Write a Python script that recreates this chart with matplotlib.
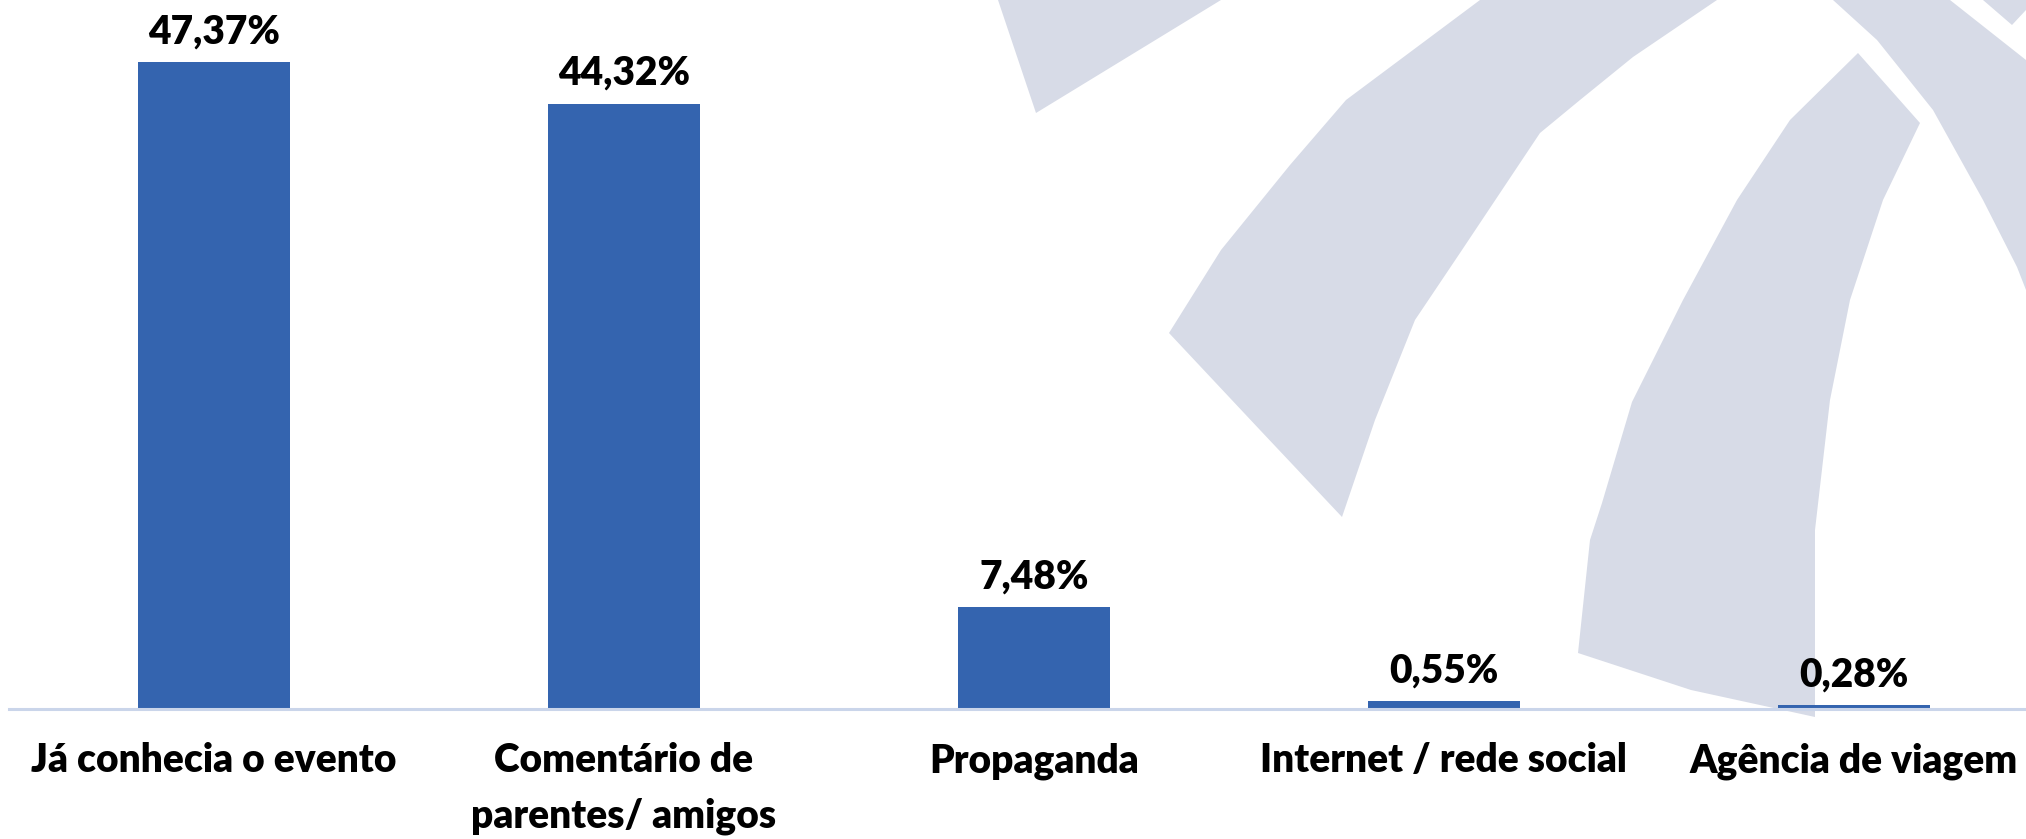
import matplotlib
matplotlib.use("Agg")
import matplotlib.pyplot as plt
from matplotlib.patches import Polygon

categories = ["Já conhecia o evento", "Comentário de\nparentes/ amigos", "Propaganda",
              "Internet / rede social", "Agência de viagem"]
values = [47.37, 44.32, 7.48, 0.55, 0.28]
value_labels = ["47,37%", "44,32%", "7,48%", "0,55%", "0,28%"]

W, H = 2026, 839
fig = plt.figure(figsize=(W / 100, H / 100), dpi=100)
fig.patch.set_facecolor("white")

# decorative watermark in the background (pixel coordinates of the figure)
bg = fig.add_axes([0, 0, 1, 1], zorder=0)
bg.set_xlim(0, W)
bg.set_ylim(H, 0)
bg.axis("off")
wm_color = "#d7dbe7"
shapes = [
    [(998, 0), (1036, 113), (1221, 0)],
    [(1480, 0), (1346, 100), (1290, 165), (1221, 250), (1169, 333),
     (1260, 430), (1342, 517), (1375, 420), (1415, 320), (1462, 250),
     (1540, 133), (1580, 100), (1633, 57), (1717, 0)],
    [(1858, 53), (1920, 123), (1883, 200), (1850, 300), (1830, 400),
     (1815, 530), (1815, 717), (1691, 690), (1578, 653), (1590, 540),
     (1602, 503), (1632, 402), (1683, 300), (1737, 200), (1790, 120)],
    [(1833, 0), (1877, 40), (1933, 110), (1983, 200), (2017, 267),
     (2026, 290), (2026, 60), (1950, 0)],
    [(1983, 0), (2012, 25), (2026, 10), (2026, 0)],
]
for s in shapes:
    bg.add_patch(Polygon(s, closed=True, facecolor=wm_color, edgecolor="none"))

ax = fig.add_axes([9 / W, (H - 709) / H, 1 - 9 / W, 709 / H], zorder=1)
ax.patch.set_alpha(0)
x = list(range(len(categories)))
bars = ax.bar(x, values, width=0.37, color="#3464AF", zorder=2)
ax.set_xlim(-0.5, 4.42)
ax.set_ylim(0, 709 / 13.66)

font = "Lato"
weight = "heavy"
for rect, lab in zip(bars, value_labels):
    ax.annotate(lab, (rect.get_x() + rect.get_width() / 2, rect.get_height()),
                xytext=(0, 13.5), textcoords="offset points",
                ha="center", va="baseline", fontsize=28, fontweight=weight,
                family=font, color="black")

ax.set_xticks(x)
ax.set_xticklabels(categories, fontsize=28, fontweight=weight, family=font,
                   linespacing=1.6, va="top")
ax.tick_params(axis="x", length=0, pad=24)
ax.set_yticks([])
for side in ["top", "right", "left"]:
    ax.spines[side].set_visible(False)
ax.spines["bottom"].set_color("#cad5ea")
ax.spines["bottom"].set_linewidth(2.2)

fig.savefig("out.png", dpi=100, facecolor="white")
